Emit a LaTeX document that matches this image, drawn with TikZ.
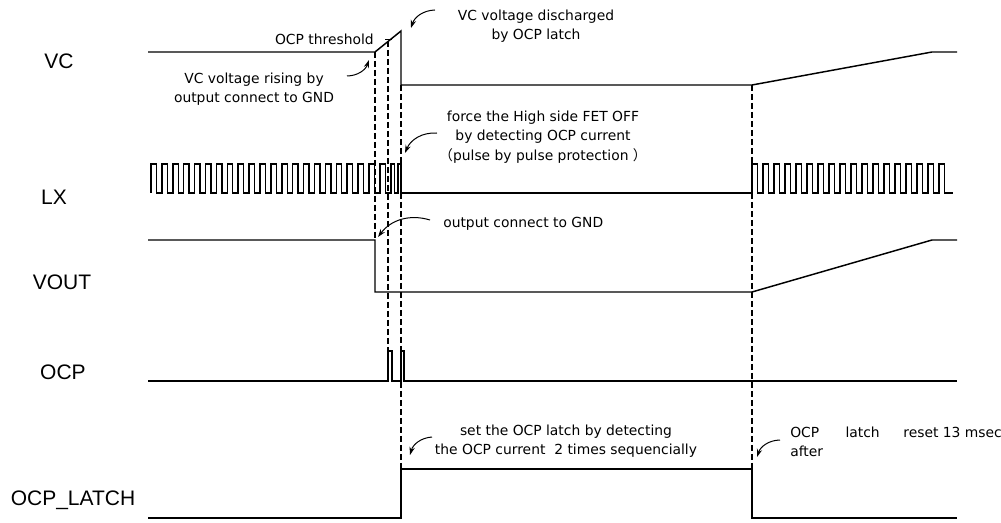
\documentclass[tikz,border=0pt]{standalone}
\usepackage{fontspec}
\setmainfont{Liberation Sans}
\newfontfamily\annfont{DejaVu Sans}
\newfontfamily\cjkfont{Noto Sans CJK JP}
\usetikzlibrary{arrows.meta}

\newcommand*{\xstart}{148}
\newcommand*{\xend}{957}
\newcommand*{\lxlo}{329}
\newcommand*{\lxamp}{29}

\begin{document}
\begin{tikzpicture}
[
	x=0.75pt, y=0.75pt,
	wave/.style={line width=1.1pt, line join=miter},
	guide/.style={line width=1pt, dash pattern=on 4.5pt off 2.25pt},
	rowlabel/.style={font=\fontsize{15.75}{18}\selectfont},
	note/.style={font=\annfont\fontsize{10.4}{14.5}\selectfont, align=center, inner sep=0pt},
	notearrow/.style={line width=0.75pt, -{Stealth[length=6pt,width=4pt]}, bend right=35}
]
	\useasboundingbox (0,0) rectangle (1001,522);

	% row labels
	\node[rowlabel] (vc) at (59,461) {VC};
	\node[rowlabel] (lx) at (54,325) {LX};
	\node[rowlabel] (vout) at (62,240) {VOUT};
	\node[rowlabel] (ocp) at (63,150) {OCP};
	\node[rowlabel] (latch) at (73,22) {OCP\_LATCH};

	% VC
	\draw[wave] (\xstart,470) -- (375,470) -- (401,491) -- (401,437) -- (752,437) -- (932,470) -- (\xend,470);
	\draw[line width=0.75pt] (385,482) -- (392,482);

	% LX
	\draw[wave] (151,\lxlo)
		\foreach \i in {1,...,22} { -- ++(0,\lxamp) -- ++(5.45,0) -- ++(0,-\lxamp) -- ++(5.45,0) }
		-- ++(0,\lxamp) -- ++(3.6,0) -- ++(0,-\lxamp) -- ++(3.8,0) -- ++(0,\lxamp) -- (401,358) -- (401,\lxlo)
		-- (752,\lxlo)
		\foreach \i in {1,...,18} { -- ++(0,\lxamp) -- ++(5.5,0) -- ++(0,-\lxamp) -- ++(5.5,0) }
		-- (953,\lxlo);

	% VOUT
	\draw[wave] (\xstart,282) -- (375,282) -- (375,230) -- (752,230) -- (932,282) -- (\xend,282);

	% OCP
	\draw[wave] (\xstart,141) -- (388,141) -- (388,171) -- (392,171) -- (392,141)
		-- (401,141) -- (401,171) -- (404,171) -- (404,141) -- (\xend,141);

	% OCP_LATCH
	\draw[wave] (\xstart,4) -- (401,4) -- (401,53) -- (752,53) -- (752,4) -- (\xend,4);

	% timing guides
	\draw[guide] (375,470) -- (375,282);
	\draw[guide] (388,481) -- (388,171);
	\draw[guide] (401,437) -- (401,53);
	\draw[guide] (752,437) -- (752,53);

	% notes
	\node[note, anchor=east] (thr) at (374,483) {OCP threshold};
	\node[note] (rise) at (254,433) {VC voltage rising by\\output connect to GND};
	\node[note] (dis) at (536,496) {VC voltage discharged\\by OCP latch};
	\node[note] (force) at (543,385) {force the High side FET OFF\\by detecting OCP current\\{\cjkfont （}pulse by pulse protection {\cjkfont ）}};
	\node[note, anchor=west] (gnd) at (443,298) {output connect to GND};
	\node[note] (set) at (566,81) {set the OCP latch by detecting\\the OCP current\ \ 2 times sequencially};
	\node[note, align=left, anchor=west] (reset) at (790,80) {OCP\hspace{1.9em}latch\hspace{1.7em}reset 13 msec\\after};

	% note arrows
	\coordinate (riseTail) at (347,446);
	\coordinate (riseTip) at (369,462);
	\coordinate (disTail) at (435,512);
	\coordinate (disTip) at (411,494);
	\coordinate (forceTail) at (437,389);
	\coordinate (forceTip) at (405,369);
	\coordinate (gndTail) at (430,302);
	\coordinate (gndTip) at (378,285);
	\coordinate (setTail) at (432,85);
	\coordinate (setTip) at (410,67);
	\coordinate (resetTail) at (780,82);
	\coordinate (resetTip) at (757,65);
	\draw[notearrow] (riseTail) to (riseTip);
	\draw[notearrow] (disTail) to (disTip);
	\draw[notearrow] (forceTail) to (forceTip);
	\draw[notearrow] (gndTail) to (gndTip);
	\draw[notearrow] (setTail) to (setTip);
	\draw[notearrow] (resetTail) to (resetTip);

\end{tikzpicture}
\end{document}
